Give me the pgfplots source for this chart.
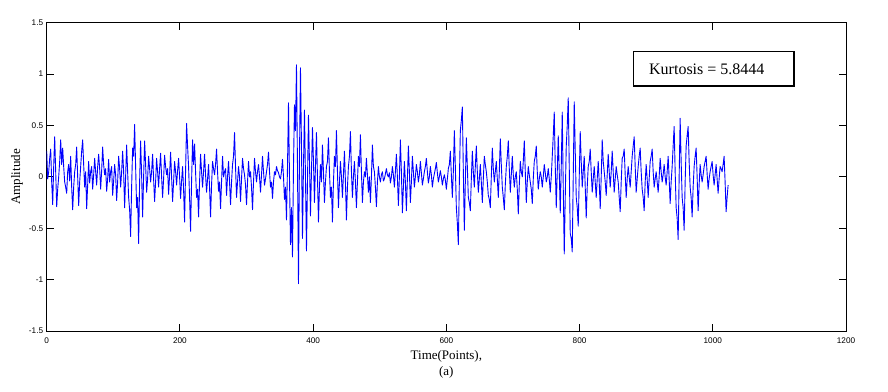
\documentclass[border=0pt]{standalone}
\usepackage{fontspec}
\setmainfont{Liberation Serif}
\setsansfont{Liberation Sans}
\usepackage{pgfplots}
\pgfplotsset{compat=1.18}
\usepackage{pgfplotstable}
\pgfplotstableread{
x y
0 0.25
1.5 -0.02
3 0.05
4.5 0.18
6 0.27
7.5 -0.05
9 -0.27
10.5 0.1
12 0.39
13.5 0.05
15 -0.29
16.5 -0.12
18 0.0
19.5 0.15
21 0.36
22.5 0.12
24 0.28
25.5 0.1
27 -0.05
28.5 -0.1
30 -0.16
31.5 0.05
33 0.12
34.5 -0.04
36 0.2
37.5 -0.1
39 -0.32
40.5 -0.1
42 0.05
43.5 0.12
45 0.29
46.5 0.0
48 -0.28
49.5 -0.05
51 0.1
52.5 0.25
54 0.36
55.5 0.12
57 -0.1
58.5 0.05
60 -0.31
61.5 -0.08
63 0.15
64.5 -0.06
66 0.05
67.5 0.1
69 -0.12
70.5 0.02
72 0.18
73.5 0.05
75 -0.08
76.5 0.1
78 0.22
79.5 0.08
81 -0.12
82.5 0.06
84 0.29
85.5 0.12
87 0.02
88.5 0.08
90 -0.14
91.5 -0.02
93 0.17
94.5 -0.05
96 0.05
97.5 0.1
99 -0.18
100.5 -0.04
102 0.12
103.5 0.02
105 -0.23
106.5 -0.05
108 0.2
109.5 0.08
111 -0.1
112.5 0.05
114 0.25
115.5 0.05
117 -0.3
118.5 0.0
120 0.31
121.5 0.05
123 -0.2
124.5 -0.32
126 -0.58
127.5 -0.1
129 0.28
130.5 0.2
132 0.51
133.5 0.1
135 -0.3
136.5 -0.2
138 -0.65
139.5 -0.05
141 0.35
142.5 0.02
144 -0.39
145.5 0.0
147 0.35
148.5 0.12
150 -0.15
151.5 -0.02
153 0.2
154.5 0.08
156 -0.05
157.5 0.05
159 0.22
160.5 -0.02
162 -0.24
163.5 -0.05
165 0.18
166.5 0.05
168 -0.1
169.5 0.08
171 0.23
172.5 0.0
174 -0.2
175.5 -0.02
177 0.21
178.5 0.1
180 0.02
181.5 0.08
183 -0.17
184.5 0.02
186 0.24
187.5 0.0
189 -0.24
190.5 -0.05
192 0.15
193.5 0.05
195 -0.08
196.5 0.06
198 0.18
199.5 0.0
201 -0.21
202.5 -0.04
204 0.1
205.5 -0.12
207 -0.44
208.5 0.05
210 0.52
211.5 0.3
213 0.1
214.5 -0.2
216 -0.53
217.5 -0.05
219 0.36
220.5 0.12
222 0.32
223.5 0.05
225 -0.2
226.5 -0.12
228 -0.39
229.5 -0.05
231 0.22
232.5 0.05
234 -0.1
235.5 0.05
237 0.22
238.5 0.02
240 -0.15
241.5 -0.02
243 0.12
244.5 -0.1
246 -0.39
247.5 -0.08
249 0.15
250.5 0.08
252 0.02
253.5 0.12
255 0.27
256.5 0.05
258 -0.14
259.5 -0.05
261 -0.31
262.5 -0.05
264 0.2
265.5 0.0
267 0.05
268.5 0.08
270 -0.18
271.5 0.0
273 0.15
274.5 -0.05
276 -0.27
277.5 -0.05
279 0.12
280.5 0.2
282 0.43
283.5 0.1
285 -0.2
286.5 -0.05
288 0.1
289.5 0.0
291 -0.24
292.5 -0.02
294 0.18
295.5 0.08
297 0.02
298.5 -0.08
300 -0.27
301.5 -0.05
303 0.15
304.5 0.0
306 0.05
307.5 -0.1
309 -0.32
310.5 -0.05
312 0.18
313.5 0.05
315 -0.05
316.5 0.05
318 0.12
319.5 0.0
321 -0.15
322.5 0.02
324 0.2
325.5 0.05
327 -0.08
328.5 -0.02
330 0.05
331.5 0.12
333 0.24
334.5 0.05
336 -0.1
337.5 -0.05
339 -0.21
340.5 -0.05
342 0.05
343.5 0.02
345 0.1
346.5 0.06
348 0.04
349.5 0.0
351 -0.02
352.5 0.05
354 0.17
355.5 0.0
357 -0.22
358.5 -0.1
360 -0.42
361.5 0.1
363 0.72
364.5 0.0
366 -0.66
367.5 -0.3
369 -0.78
370.5 0.1
372 0.7
373.5 0.45
375 1.09
376.5 0.1
378 -1.04
379.5 0.2
381 1.06
382.5 0.3
384 -0.6
385.5 0.1
387 0.65
388.5 0.0
390 -0.72
391.5 -0.05
393 0.6
394.5 0.15
396 -0.38
397.5 0.05
399 0.48
400.5 0.15
402 -0.25
403.5 0.1
405 0.43
406.5 0.0
408 -0.44
409.5 -0.1
411 0.12
412.5 -0.05
414 0.31
415.5 0.05
417 -0.25
418.5 -0.05
420 0.1
421.5 0.15
423 0.38
424.5 0.05
426 -0.2
427.5 -0.1
429 -0.44
430.5 -0.05
432 0.2
433.5 0.1
435 0.45
436.5 0.05
438 -0.3
439.5 -0.05
441 0.15
442.5 0.0
444 -0.2
445.5 0.02
447 0.25
448.5 -0.05
450 -0.42
451.5 -0.1
453 0.1
454.5 0.2
456 0.44
457.5 0.05
459 -0.2
460.5 0.0
462 0.15
463.5 -0.05
465 -0.3
466.5 -0.05
468 0.2
469.5 0.1
471 0.41
472.5 0.05
474 -0.25
475.5 -0.05
477 0.05
478.5 0.0
480 0.18
481.5 0.02
483 -0.15
484.5 0.0
486 -0.25
487.5 0.0
489 0.31
490.5 0.1
492 0.05
493.5 -0.1
495 -0.29
496.5 -0.05
498 0.1
499.5 0.0
501 -0.05
502.5 0.02
504 0.05
505.5 -0.04
507 -0.02
508.5 0.03
510 0.08
511.5 0.02
513 0.0
514.5 0.04
516 -0.06
517.5 0.0
519 0.1
520.5 0.02
522 -0.1
523.5 0.05
525 0.22
526.5 0.0
528 -0.28
529.5 0.0
531 0.36
532.5 0.05
534 -0.35
535.5 -0.1
537 0.15
538.5 -0.05
540 -0.33
541.5 -0.02
543 0.3
544.5 0.05
546 -0.25
547.5 -0.05
549 0.2
550.5 0.05
552 -0.1
553.5 0.0
555 0.12
556.5 0.05
558 -0.05
559.5 0.02
561 0.15
562.5 0.04
564 -0.08
565.5 -0.02
567 0.05
568.5 0.1
570 0.18
571.5 0.05
573 -0.06
574.5 0.0
576 0.1
577.5 0.02
579 -0.1
580.5 -0.02
582 0.03
583.5 0.08
585 0.14
586.5 0.04
588 -0.05
589.5 0.0
591 0.06
592.5 0.0
594 -0.08
595.5 -0.02
597 0.02
598.5 -0.03
600 -0.12
601.5 -0.02
603 0.08
604.5 0.12
606 0.25
607.5 0.02
609 -0.2
610.5 0.05
612 0.45
613.5 0.1
615 -0.3
616.5 -0.45
618 -0.66
619.5 -0.05
621 0.45
622.5 0.55
624 0.68
625.5 0.05
627 -0.52
628.5 -0.05
630 0.38
631.5 0.1
633 -0.2
634.5 -0.25
636 -0.33
637.5 -0.02
639 0.25
640.5 0.05
642 -0.1
643.5 0.1
645 0.3
646.5 0.05
648 -0.15
649.5 -0.02
651 0.12
652.5 -0.05
654 -0.25
655.5 -0.02
657 0.2
658.5 0.12
660 0.05
661.5 -0.05
663 -0.18
664.5 -0.22
666 -0.3
667.5 0.0
669 0.28
670.5 0.08
672 -0.05
673.5 0.05
675 0.15
676.5 -0.02
678 -0.2
679.5 0.05
681 0.37
682.5 0.12
684 -0.1
685.5 -0.2
687 -0.32
688.5 -0.08
690 0.1
691.5 0.2
693 0.35
694.5 0.08
696 -0.15
697.5 0.02
699 0.2
700.5 0.02
702 -0.1
703.5 0.0
705 0.05
706.5 -0.12
708 -0.36
709.5 -0.08
711 0.15
712.5 0.05
714 0.0
715.5 0.15
717 0.35
718.5 0.05
720 -0.25
721.5 -0.05
723 0.1
724.5 0.02
726 -0.05
727.5 -0.12
729 -0.26
730.5 -0.02
732 0.15
733.5 0.2
735 0.3
736.5 0.05
738 -0.12
739.5 -0.02
741 0.05
742.5 0.0
744 -0.1
745.5 0.0
747 0.12
748.5 0.04
750 -0.05
751.5 0.0
753 0.08
754.5 -0.02
756 -0.15
757.5 0.0
759 0.2
760.5 0.4
762 0.63
763.5 0.1
765 -0.3
766.5 0.05
768 0.4
769.5 0.05
771 -0.35
772.5 0.1
774 0.63
775.5 -0.1
777 -0.75
778.5 -0.2
780 0.3
781.5 0.5
783 0.77
784.5 0.1
786 -0.55
787.5 -0.6
789 -0.73
790.5 0.0
792 0.73
793.5 0.25
795 -0.2
796.5 -0.3
798 -0.48
799.5 0.0
801 0.44
802.5 0.15
804 -0.1
805.5 0.05
807 0.2
808.5 -0.1
810 -0.4
811.5 -0.1
813 0.1
814.5 0.15
816 0.27
817.5 0.05
819 -0.15
820.5 -0.02
822 0.1
823.5 -0.05
825 -0.2
826.5 -0.02
828 0.15
829.5 -0.05
831 -0.31
832.5 0.0
834 0.36
835.5 0.15
837 0.05
838.5 -0.05
840 -0.18
841.5 0.02
843 0.22
844.5 0.05
846 -0.1
847.5 0.05
849 0.25
850.5 0.05
852 -0.15
853.5 -0.02
855 0.1
856.5 0.02
858 -0.05
859.5 -0.2
861 -0.34
862.5 -0.05
864 0.18
865.5 0.2
867 0.27
868.5 0.02
870 -0.2
871.5 -0.02
873 0.1
874.5 0.0
876 -0.1
877.5 0.05
879 0.2
880.5 0.3
882 0.39
883.5 0.1
885 -0.15
886.5 -0.02
888 0.1
889.5 0.2
891 0.28
892.5 0.05
894 -0.12
895.5 -0.2
897 -0.33
898.5 -0.05
900 0.12
901.5 -0.02
903 -0.2
904.5 -0.02
906 0.15
907.5 0.2
909 0.27
910.5 0.05
912 -0.1
913.5 -0.02
915 0.05
916.5 -0.05
918 -0.15
919.5 0.0
921 0.18
922.5 0.05
924 -0.05
925.5 0.02
927 0.12
928.5 0.0
930 -0.08
931.5 0.05
933 0.2
934.5 -0.02
936 -0.26
937.5 -0.05
939 0.1
940.5 0.3
942 0.49
943.5 0.05
945 -0.3
946.5 -0.4
948 -0.61
949.5 0.0
951 0.57
952.5 0.15
954 -0.2
955.5 -0.3
957 -0.52
958.5 -0.05
960 0.3
961.5 0.4
963 0.49
964.5 0.15
966 -0.1
967.5 -0.2
969 -0.39
970.5 -0.1
972 0.1
973.5 0.2
975 0.28
976.5 0.0
978 -0.33
979.5 -0.08
981 0.12
982.5 0.02
984 -0.05
985.5 0.02
987 0.1
988.5 0.15
990 0.2
991.5 0.03
993 -0.12
994.5 -0.02
996 0.05
997.5 0.1
999 0.15
1000.5 0.02
1002 -0.08
1003.5 0.02
1005 0.12
1006.5 -0.02
1008 -0.16
1009.5 -0.02
1011 0.1
1012.5 0.08
1014 0.05
1015.5 0.12
1017 0.2
1018.5 -0.05
1020 -0.34
1021.5 -0.2
1023 -0.08
}\signal
\begin{document}
\begin{tikzpicture}
\useasboundingbox (-46.7pt,-60pt) rectangle (841.3pt,331pt);
\begin{axis}[
  scale only axis,
  width=799.3pt, height=308.3pt,
  xmin=0, xmax=1200, ymin=-1.5, ymax=1.5,
  xtick={0,200,...,1200},
  ytick={-1.5,-1,-0.5,0,0.5,1,1.5},
  scaled ticks=false,
  /pgf/number format/1000 sep={},
  /pgf/number format/assume math mode=true,
  tick label style={font=\sffamily\fontsize{8.2}{9.5}\selectfont, text=black},
  yticklabel style={inner sep=0pt, xshift=-3.4pt},
  xticklabel style={inner sep=0pt, yshift=-6.5pt},
  axis line style={line width=0.9pt},
  every tick/.style={line width=0.9pt, black},
  major tick length=7pt,
  tick align=inside,
  xlabel={Time(Points),\\(a)},
  xlabel style={align=center, font=\fontsize{13}{15.5}\selectfont, at={(axis description cs:0.5,0)}, anchor=north, yshift=-16pt},
  ylabel={Amplitude},
  ylabel style={font=\fontsize{13}{15}\selectfont, at={(axis description cs:-0.0372,0.5)}, anchor=center, rotate=0},
]
\addplot[color={rgb,255:red,0;green,0;blue,255}, line width=0.9pt, line join=round, mark=none] table[x=x, y=y] {\signal};
\draw[line width=1.3pt] (axis cs:881,0.883) rectangle (axis cs:1122,1.217);
\node[font=\fontsize{16}{18}\selectfont] at (axis cs:991,1.05) {Kurtosis = 5.8444};
\end{axis}
\end{tikzpicture}
\end{document}
